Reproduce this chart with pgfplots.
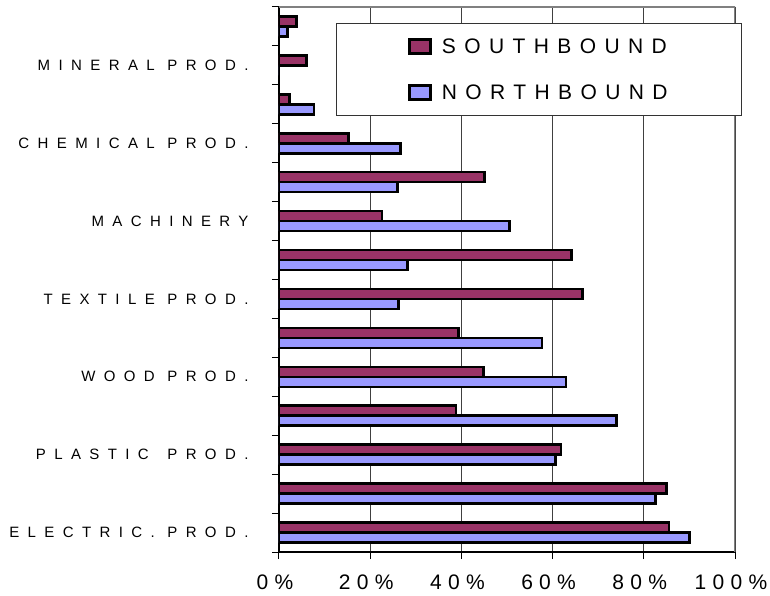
\documentclass[border=0pt]{standalone}
\usepackage{pgfplots}
\pgfplotsset{compat=1.18}
\usepackage{fontspec}
\setmainfont{Liberation Sans}
\newfontfamily\catfont[LetterSpace=56]{Liberation Sans}
\newfontfamily\tickfont[LetterSpace=30]{Liberation Sans}
\newfontfamily\legfont[LetterSpace=40]{Liberation Sans}
\definecolor{south}{HTML}{993366}
\definecolor{north}{HTML}{9999FF}
\begin{document}
\begin{tikzpicture}
\useasboundingbox (-279bp,-44bp) rectangle (491bp,552bp);
\begin{axis}[
  at={(0,0)}, anchor=south west,
  scale only axis, width=456bp, height=545bp,
  xbar=0pt, bar width=10bp,
  xmin=0, xmax=100, ymin=-0.5, ymax=13.5,
  axis x line*=bottom, axis y line*=left,
  axis line style={black, line width=1.2bp, -},
  tick align=outside,
  major tick length=7bp,
  tick style={black, line width=1bp},
  xtick={0,20,40,60,80,100},
  xticklabels={0\%,20\%,40\%,60\%,80\%,100\%},
  xticklabel style={font=\fontsize{21bp}{25bp}\tickfont, yshift=-12bp, xshift=-4bp},
  ytick={-0.5,0.5,...,13.5},
  yticklabels={},
  extra y ticks={0,2,4,6,8,10,12},
  extra y tick labels={ELECTRIC. PROD., PLASTIC\hspace{6bp} PROD., WOOD PROD., TEXTILE PROD., MACHINERY, CHEMICAL PROD., MINERAL PROD.},
  extra y tick style={major tick length=0pt, yticklabel style={font=\fontsize{15bp}{18bp}\catfont, xshift=-27bp}},
  xmajorgrids, grid style={black!75, line width=0.8bp},
  legend style={at={(rel axis cs:0.125,0.9706)}, anchor=north west, draw=black!80, line width=0.8bp,
    font=\fontsize{21bp}{25bp}\legfont, inner xsep=72bp, inner ysep=13bp, row sep=26bp},
  legend cell align=left,
  reverse legend,
  legend image code/.code={\draw[#1, line width=2.4bp] (0bp,-7bp) rectangle (21bp,7bp); \path (29bp,0bp);},
]
\addplot[fill=north, draw=black, line width=2.6bp] coordinates {
(90.0,0) (82.5,1) (60.6,2) (74.0,3) (62.9,4) (57.7,5) (26.2,6) (28.2,7) (50.5,8) (26.0,9) (26.7,10) (7.7,11) (0,12) (1.9,13)};
\addlegendentry{NORTHBOUND}
\addplot[fill=south, draw=black, line width=2.6bp] coordinates {
(85.5,0) (85.0,1) (61.8,2) (38.8,3) (44.9,4) (39.4,5) (66.6,6) (64.2,7) (22.6,8) (45.1,9) (15.2,10) (2.3,11) (6.0,12) (3.9,13)};
\addlegendentry{SOUTHBOUND}
\draw[color=black!50, line width=2.5bp] (rel axis cs:0,1) -- (rel axis cs:1,1) -- (rel axis cs:1,0);
\end{axis}
\end{tikzpicture}
\end{document}
